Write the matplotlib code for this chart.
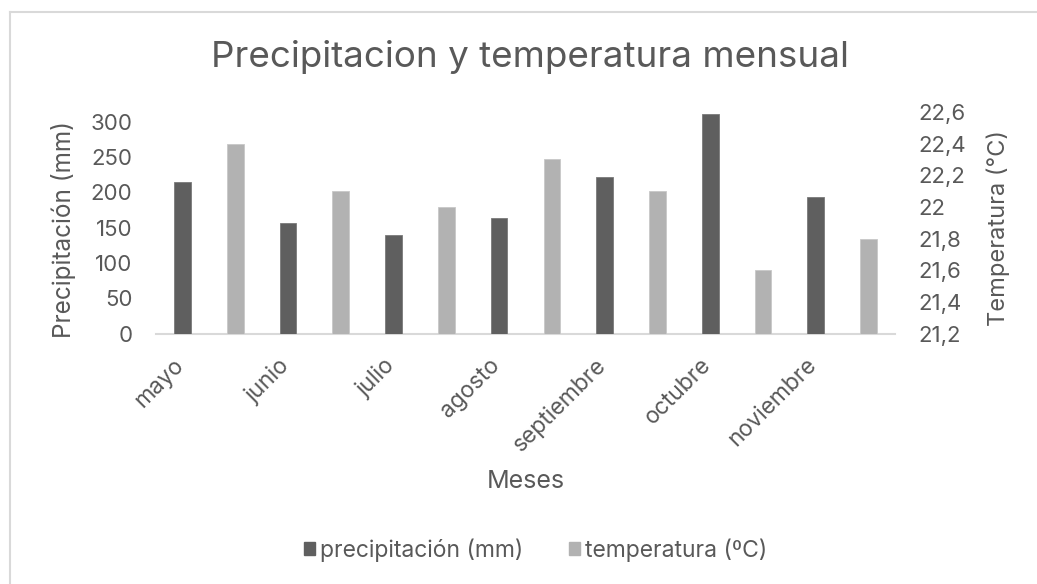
import matplotlib
matplotlib.use("Agg")
import matplotlib.pyplot as plt
from matplotlib.lines import Line2D
from matplotlib.patches import Patch
from matplotlib.transforms import ScaledTranslation
import numpy as np

months = ["mayo", "junio", "julio", "agosto", "septiembre", "octubre", "noviembre"]
precip = [215, 157, 140, 164, 222, 311, 193]
temp = [22.4, 22.1, 22.0, 22.3, 22.1, 21.6, 21.8]
left_ticks = [0, 50, 100, 150, 200, 250, 300]
right_ticks = [21.2, 21.4, 21.6, 21.8, 22.0, 22.2, 22.4, 22.6]
right_labels = ["21,2", "21,4", "21,6", "21,8", "22", "22,2", "22,4", "22,6"]

FONT = "Inter"
TXT = "#595959"
DARK = "#5f5f5f"
LIGHT = "#b2b2b2"

plt.rcParams["font.family"] = [FONT, "DejaVu Sans"]

fig = plt.figure(figsize=(10.37, 5.84), dpi=100)
W, H = 1037, 584
ax = fig.add_axes([156 / W, 1 - 333.5 / H, 739 / W, (333.5 - 112) / H])
ax2 = ax.twinx()

n = len(months)
xd = np.arange(n) * 2
xl = xd + 1
bw = 0.316

ax.bar(xd, precip, width=bw, color=DARK, edgecolor="#7a7a7a", linewidth=0.6, zorder=3)
ax2.bar(xl, temp, width=bw, color=LIGHT, edgecolor="#c8c8c8", linewidth=0.6, zorder=3,
        bottom=0)

ax.set_xlim(-0.5, 2 * n - 0.5)
ax.set_ylim(0, 300 * 221.5 / 212)
ax2.set_ylim(21.2, 22.6)
ax.set_yticks(left_ticks)
ax2.set_yticks(right_ticks)
ax2.set_yticklabels(right_labels)

ax.set_xticks(xd)
ax.set_xticklabels(months, rotation=45, ha="right", rotation_mode="anchor")

for a in (ax, ax2):
    for s in a.spines.values():
        s.set_visible(False)
    a.tick_params(length=0, colors=TXT, labelsize=16)
ax.tick_params(axis="x", labelsize=16.5)
ax.tick_params(axis="y", pad=17)
ax2.tick_params(axis="y", pad=17)
ax.tick_params(axis="x", pad=15)
shift = ScaledTranslation(-10 / 100, 0, fig.dpi_scale_trans)
for lab in ax.get_xticklabels():
    lab.set_transform(lab.get_transform() + shift)
ax.spines["bottom"].set_visible(True)
ax.spines["bottom"].set_color("#d9d9d9")
ax.spines["bottom"].set_linewidth(1.5)

fig.text(530 / W, 1 - 57 / H, "Precipitacion y temperatura mensual", ha="center", va="center",
         fontsize=26.5, color=TXT)
fig.text(64 / W, 1 - 229 / H, "Precipitación (mm)", rotation=90, ha="center", va="center",
         fontsize=17.5, color=TXT)
fig.text(998 / W, 1 - 228 / H, "Temperatura (°C)", rotation=90, ha="center", va="center",
         fontsize=17, color=TXT)
fig.text(526 / W, 1 - 481 / H, "Meses", ha="center", va="center", fontsize=18, color=TXT)

handles = [Patch(facecolor=DARK, edgecolor=DARK), Patch(facecolor=LIGHT, edgecolor=LIGHT)]
leg = fig.legend(handles, ["precipitación (mm)", "temperatura (ºC)"], loc="center",
                 bbox_to_anchor=(536 / W, 1 - 550 / H), ncol=2, frameon=False, fontsize=16.5,
                 handlelength=0.45, handleheight=0.45, handletextpad=0.25, columnspacing=2.0)
for t in leg.get_texts():
    t.set_color(TXT)

fig.add_artist(Line2D([10 / W, 10 / W], [0, 1 - 12 / H], color="#d9d9d9", lw=1.5))
fig.add_artist(Line2D([10 / W, 1], [1 - 12 / H, 1 - 12 / H], color="#d9d9d9", lw=1.5))

fig.savefig("out.png", dpi=100, facecolor="white")
